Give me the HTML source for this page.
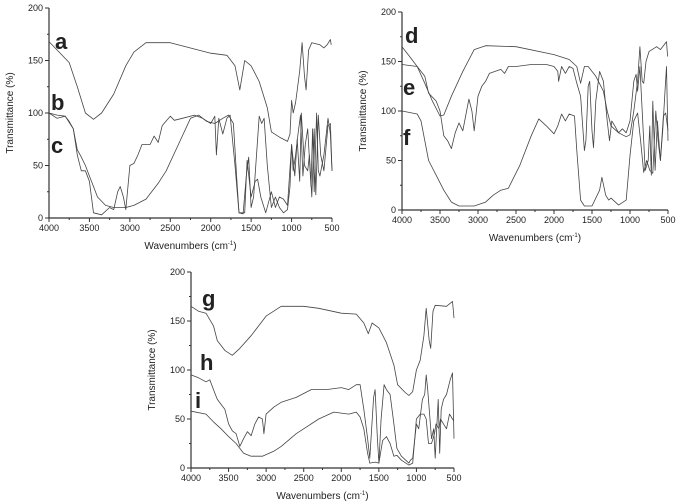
<!DOCTYPE html>
<html><head><meta charset="utf-8"><style>
html,body{margin:0;padding:0;background:#fff;}
svg{display:block;}
text{font-family:"Liberation Sans",Arial,sans-serif;fill:#222;}
</style></head><body>
<svg id="s" width="678" height="504" viewBox="0 0 678 504" xmlns="http://www.w3.org/2000/svg"></svg>
<script>
const S=document.getElementById('s');
let out='';
function panel(p){
 const X=w=>p.x0+(4000-w)/3500*(p.x1-p.x0);
 const Y=t=>p.y0-(t/200)*(p.y0-p.y1);
 out+=`<line x1="${p.x0}" y1="${p.y1}" x2="${p.x0}" y2="${p.y0}" stroke="#333" stroke-width="1.2"/>`;
 out+=`<line x1="${p.x0}" y1="${p.y0}" x2="${p.x1}" y2="${p.y0}" stroke="#333" stroke-width="1.2"/>`;
 for(let t=0;t<=200;t+=25){const y=Y(t);const maj=t%50==0;
  out+=`<line x1="${p.x0-(maj?4:2)}" y1="${y}" x2="${p.x0}" y2="${y}" stroke="#333"/>`;
  if(maj)out+=`<text x="${p.x0-6}" y="${y+3}" font-size="9" text-anchor="end">${t}</text>`;}
 for(let w=4000;w>=500;w-=250){const x=X(w);const maj=w%500==0;
  out+=`<line x1="${x}" y1="${p.y0}" x2="${x}" y2="${p.y0+(maj?4:2)}" stroke="#333"/>`;
  if(maj)out+=`<text x="${x}" y="${p.y0+13}" font-size="9" text-anchor="middle">${w}</text>`;}
 const cx=(p.x0+p.x1)/2;
 out+=`<text x="${cx}" y="${p.y0+31}" font-size="10" text-anchor="middle">Wavenumbers (cm<tspan font-size="6" dy="-4">-1</tspan><tspan dy="4">)</tspan></text>`;
 const cy=(p.y0+p.y1)/2;
 out+=`<text x="${p.x0-36}" y="${cy}" font-size="10" text-anchor="middle" transform="rotate(-90 ${p.x0-36} ${cy})">Transmittance (%)</text>`;
 p.c.forEach(c=>{
  const pts=c.d.map(q=>X(q[0]).toFixed(1)+','+Y(q[1]).toFixed(1)).join(' ');
  out+=`<polyline points="${pts}" fill="none" stroke="#444" stroke-width="0.8" stroke-linejoin="round"/>`;
  out+=`<text x="${c.lx}" y="${c.ly}" font-size="22" font-weight="bold" fill="#111">${c.l}</text>`;
 });
}
const a=[[4000,168],[3900,160],[3750,148],[3650,125],[3550,100],[3450,94],[3350,100],[3200,118],[3050,145],[2950,158],[2800,167],[2500,167],[2000,157],[1800,155],[1700,145],[1640,122],[1580,150],[1500,145],[1400,130],[1300,105],[1250,82],[1150,77],[1050,73],[1020,80],[1000,112],[980,100],[950,110],[900,140],[870,167],[840,135],[820,122],[790,160],[750,167],[650,165],[600,162],[560,165],[520,170],[510,165]];
const b=[[4000,100],[3900,98],[3800,97],[3750,92],[3700,85],[3650,65],[3600,58],[3550,50],[3500,40],[3450,30],[3400,20],[3300,12],[3200,10],[3050,10],[2950,12],[2800,18],[2650,33],[2550,45],[2400,70],[2250,95],[2150,98],[2050,92],[1950,90],[1850,95],[1780,98],[1720,90],[1680,40],[1650,5],[1600,4],[1560,40],[1530,58],[1500,10],[1470,20],[1400,97],[1370,90],[1340,95],[1300,50],[1250,10],[1200,20],[1150,10],[1100,5],[1050,8],[1020,30],[1000,70],[980,45],[950,60],[920,80],[890,98],[860,40],[830,70],[800,85],[760,30],[740,85],[720,25],[690,100],[670,45],[650,40],[600,60],[550,95],[520,80],[500,45]];
const c=[[4000,100],[3900,95],[3800,97],[3700,85],[3650,60],[3600,45],[3550,45],[3500,35],[3450,5],[3350,3],[3250,10],[3200,8],[3150,25],[3120,30],[3080,20],[3050,8],[3000,50],[2950,52],[2900,60],[2850,70],[2750,70],[2700,78],[2650,72],[2600,88],[2500,97],[2450,93],[2350,95],[2200,98],[2100,95],[2000,90],[1950,97],[1930,60],[1900,95],[1850,80],[1800,95],[1760,98],[1700,50],[1650,5],[1580,5],[1550,55],[1500,20],[1450,35],[1420,37],[1380,20],[1320,5],[1250,25],[1200,10],[1150,20],[1100,18],[1050,12],[1000,70],[960,40],[930,75],[900,35],[880,100],[840,50],[800,45],[780,60],[750,20],[720,85],[700,22],[670,98],[640,60],[600,45],[550,88],[520,90],[500,45]];
const d=[[4000,165],[3900,155],[3800,145],[3700,128],[3600,110],[3500,95],[3450,96],[3350,115],[3200,140],[3050,162],[2900,166],[2500,165],[2000,157],[1800,152],[1700,145],[1650,128],[1600,145],[1550,145],[1450,135],[1350,120],[1300,100],[1250,85],[1150,78],[1050,74],[1000,76],[950,100],[900,130],[870,165],[840,130],[820,128],[790,150],[750,160],[650,165],[600,162],[520,170],[505,155]];
const e=[[4000,147],[3800,145],[3700,135],[3650,118],[3550,110],[3500,100],[3450,75],[3400,70],[3350,62],[3300,78],[3250,88],[3200,80],[3150,100],[3120,112],[3080,100],[3050,80],[3000,115],[2950,125],[2900,130],[2850,138],[2700,142],[2650,138],[2600,145],[2500,145],[2300,147],[2100,147],[2000,145],[1950,140],[1940,130],[1900,145],[1850,138],[1800,145],[1750,143],[1700,128],[1650,115],[1600,60],[1580,70],[1550,125],[1530,130],[1500,80],[1480,63],[1450,110],[1400,140],[1350,130],[1300,90],[1270,70],[1240,90],[1200,85],[1150,78],[1100,82],[1050,78],[1000,90],[950,130],[920,137],[900,120],[870,145],[840,100],[800,40],[760,50],[740,85],[720,35],[700,110],[670,40],[640,90],[600,50],[570,80],[540,120],[520,145],[500,70]];
const f=[[4000,100],[3800,97],[3750,90],[3700,70],[3650,50],[3550,35],[3450,20],[3350,8],[3250,4],[3050,4],[2900,8],[2800,15],[2700,20],[2600,22],[2450,45],[2300,75],[2200,92],[2100,85],[2000,77],[1950,85],[1900,97],[1850,90],[1800,97],[1730,95],[1700,60],[1650,10],[1600,4],[1500,4],[1450,12],[1400,20],[1370,33],[1320,15],[1280,10],[1250,12],[1150,5],[1050,10],[1000,55],[950,90],[900,98],[860,70],[820,38],[780,50],[740,40],[700,37],[660,100],[630,70],[600,50],[560,95],[530,98],[500,80]];
const g=[[4000,165],[3900,160],[3800,158],[3700,145],[3650,130],[3550,120],[3450,115],[3350,122],[3200,135],[3000,155],[2800,165],[2500,165],[2300,163],[2000,158],[1800,157],[1700,148],[1640,137],[1590,148],[1500,143],[1400,128],[1300,105],[1250,85],[1150,77],[1100,74],[1050,78],[1000,100],[950,110],[900,135],[870,163],[830,130],[810,122],[780,160],[750,166],[600,165],[520,170],[500,153]];
const h=[[4000,95],[3900,92],[3800,88],[3750,90],[3700,80],[3650,70],[3550,60],[3500,45],[3450,38],[3400,35],[3350,22],[3300,30],[3250,37],[3200,33],[3150,45],[3100,52],[3050,50],[3030,35],[3000,55],[2900,62],[2800,67],[2600,72],[2400,80],[2200,80],[2000,82],[1900,80],[1800,85],[1750,85],[1700,60],[1650,30],[1620,10],[1570,72],[1550,80],[1520,30],[1500,5],[1470,50],[1430,85],[1400,80],[1350,75],[1300,45],[1260,20],[1200,12],[1100,5],[1080,8],[1050,10],[1000,45],[970,40],[920,70],[890,75],[870,95],[850,80],[800,30],[770,40],[750,10],[730,40],[710,70],[690,15],[670,60],[640,70],[600,75],[550,90],[520,97],[500,30]];
const i=[[4000,58],[3800,55],[3700,47],[3600,40],[3500,32],[3400,25],[3300,15],[3200,12],[3050,12],[2900,17],[2800,22],[2600,35],[2500,40],[2300,50],[2100,57],[1900,55],[1800,57],[1750,52],[1700,40],[1650,15],[1620,5],[1550,6],[1500,5],[1450,28],[1400,32],[1350,25],[1300,12],[1260,13],[1200,8],[1100,3],[1050,5],[1000,50],[950,55],[900,55],[870,50],[840,25],[800,25],[760,35],[740,45],[700,40],[680,50],[640,45],[600,40],[560,55],[520,50],[500,48]];
panel({x0:49,x1:332,y0:218,y1:8,c:[{d:a,l:'a',lx:55,ly:49},{d:b,l:'b',lx:51,ly:110},{d:c,l:'c',lx:51,ly:153}]});
panel({x0:402,x1:668,y0:210,y1:12,c:[{d:d,l:'d',lx:405,ly:43},{d:e,l:'e',lx:403,ly:95},{d:f,l:'f',lx:403,ly:145}]});
panel({x0:191,x1:454,y0:468,y1:272,c:[{d:g,l:'g',lx:202,ly:306},{d:h,l:'h',lx:200,ly:370},{d:i,l:'i',lx:195,ly:408}]});
S.innerHTML=out;
</script>
</body></html>
